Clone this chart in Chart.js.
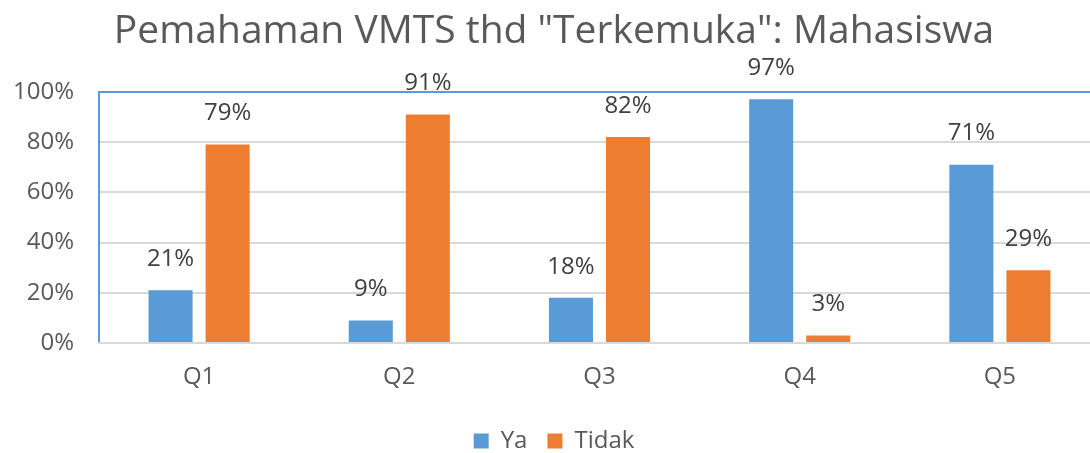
<!DOCTYPE html>
<html>
<head>
<meta charset="utf-8">
<script src="https://cdn.jsdelivr.net/npm/chart.js@4"></script>
<style>
    html, body { margin: 0; padding: 0; overflow: hidden; background: #fff; }
    #wrap { width: 1125px; height: 453px; }
</style>
</head>
<body>
<div id="wrap"><canvas id="vmts-chart"></canvas></div>
<script>
const categories = ["Q1", "Q2", "Q3", "Q4", "Q5"];
const yaValues = [21, 9, 18, 97, 71];
const tidakValues = [79, 91, 82, 3, 29];
const yTicks = [0, 20, 40, 60, 80, 100];

const FONT = "'Open Sans', sans-serif";

// percent labels above each bar
const barLabels = {
    id: "barLabels",
    afterDatasetsDraw(chart) {
        const ctx = chart.ctx;
        ctx.save();
        ctx.font = "24px " + FONT;
        ctx.fillStyle = "#404040";
        ctx.textAlign = "center";
        ctx.textBaseline = "middle";
        chart.data.datasets.forEach((ds, i) => {
            chart.getDatasetMeta(i).data.forEach((bar, j) => {
                ctx.fillText(ds.data[j] + "%", bar.x, bar.y - 31);
            });
        });
        ctx.restore();
    },
};

const data = {
    labels: categories,
    datasets: [
        {
            label: "Ya",
            data: yaValues,
            backgroundColor: "#5B9BD5",
            categoryPercentage: 0.57,
            barPercentage: 0.772,
        },
        {
            label: "Tidak",
            data: tidakValues,
            backgroundColor: "#ED7D31",
            categoryPercentage: 0.57,
            barPercentage: 0.772,
        },
    ],
};

const config = {
    type: "bar",
    data,
    options: {
        responsive: true,
        maintainAspectRatio: false,
        animation: false,
        layout: { padding: { left: 8, right: 25, top: 0, bottom: -10 } },
        scales: {
            y: {
                min: 0,
                max: 100,
                afterBuildTicks: (scale) => {
                    scale.ticks = yTicks.map((v) => ({ value: v }));
                },
                afterFit: (scale) => {
                    scale.width = 91;
                },
                ticks: {
                    callback: (v) => v + "%",
                    color: "#595959",
                    font: { family: FONT, size: 24 },
                    padding: 25,
                },
                grid: {
                    drawTicks: false,
                    lineWidth: 2,
                    color: (c) => (c.tick && c.tick.value === 100 ? "#5B9BD5" : "#D9D9D9"),
                },
                border: { color: "#5B9BD5", width: 2 },
            },
            x: {
                afterFit: (scale) => {
                    scale.height = 66;
                },
                ticks: {
                    color: "#595959",
                    font: { family: FONT, size: 24 },
                    padding: 20,
                },
                grid: { display: false, drawTicks: false },
                border: { color: "#D9D9D9", width: 2 },
            },
        },
        plugins: {
            title: {
                display: true,
                text: 'Pemahaman VMTS thd "Terkemuka": Mahasiswa',
                color: "#595959",
                font: { family: FONT, size: 39, weight: "normal" },
                padding: { top: 8, bottom: 37 },
            },
            legend: {
                position: "bottom",
                labels: {
                    boxWidth: 15,
                    boxHeight: 15,
                    color: "#595959",
                    font: { family: FONT, size: 24 },
                    padding: 20,
                },
            },
            tooltip: { enabled: false },
        },
    },
    plugins: [barLabels],
};

const vmtsChart = new Chart(document.getElementById("vmts-chart"), config);
</script>
</body>
</html>
